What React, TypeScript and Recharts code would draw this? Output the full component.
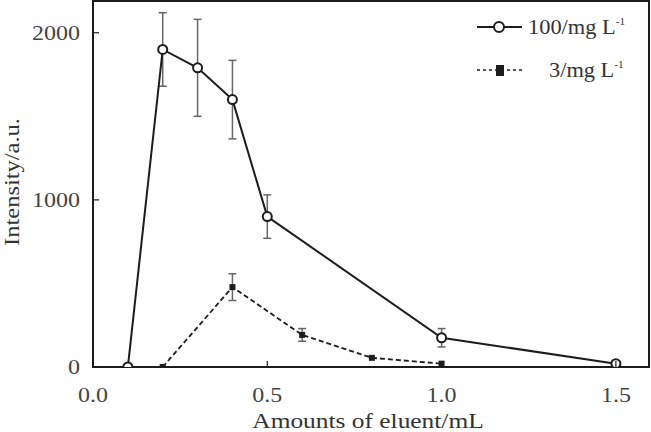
import React from "react";
import {
  LineChart,
  Line,
  XAxis,
  YAxis,
  ErrorBar,
  Legend,
  ReferenceArea,
} from "recharts";

const eluentHigh = [0.1, 0.2, 0.3, 0.4, 0.5, 1.0, 1.5];
const intensityHigh = [0, 1900, 1790, 1600, 900, 175, 20];
const errorHigh = [0, 220, 290, 235, 130, 55, 0];

const eluentLow = [0.2, 0.4, 0.6, 0.8, 1.0];
const intensityLow = [0, 478, 192, 55, 20];
const errorLow = [0, 80, 38, 0, 0];

const xTicks = [0, 0.5, 1.0, 1.5];
const yTicks = [0, 1000, 2000];
const seriesNames = ["100/mg L", "3/mg L"];

const X_MAX = 1.595;
const Y_MAX = 2190;

const FONT = "'Liberation Serif', 'Times New Roman', serif";
const INK = "#1c1c1c";
const STRETCH = 1.2;

const highData = eluentHigh.map((x, i) => ({ x, y: intensityHigh[i], err: errorHigh[i] }));
const lowData = eluentLow.map((x, i) => ({ x, y: intensityLow[i], err: errorLow[i] }));

const TICK_SIZE = 8;

function XTick({ x, y, payload }: any) {
  const axisY = y - TICK_SIZE;
  return (
    <g>
      <line x1={x} y1={axisY} x2={x} y2={axisY - 6} stroke={INK} strokeWidth={1.2} />
      <g transform={`translate(${x},${axisY + 35}) scale(${STRETCH},1)`}>
        <text x={0} y={0} textAnchor="middle" fontFamily={FONT} fontSize={20} fill="#444">
          {Number(payload.value).toFixed(1)}
        </text>
      </g>
    </g>
  );
}

function YTick({ x, y, payload }: any) {
  const axisX = x + TICK_SIZE;
  return (
    <g>
      <line x1={axisX} y1={y} x2={axisX + 6} y2={y} stroke={INK} strokeWidth={1.2} />
      <g transform={`translate(${axisX - 13},${y + 7}) scale(${STRETCH},1)`}>
        <text x={0} y={0} textAnchor="end" fontFamily={FONT} fontSize={20} fill="#444">
          {payload.value}
        </text>
      </g>
    </g>
  );
}

function SquareDot({ cx, cy, index }: any) {
  return <rect key={`sq-${index}`} x={cx - 3} y={cy - 3} width={6} height={6} fill={INK} />;
}

function LegendBox() {
  return (
    <svg width={180} height={80}>
      <line x1={7} y1={22} x2={52} y2={22} stroke={INK} strokeWidth={2} />
      <circle cx={29} cy={22} r={5} fill="#fff" stroke={INK} strokeWidth={2} />
      <g transform={`translate(58,29) scale(1.12,1)`}>
        <text x={0} y={0} fontFamily={FONT} fontSize={20} fill="#333">
          {seriesNames[0]}
          <tspan fontSize={10} dy={-9}>-1</tspan>
        </text>
      </g>
      <line x1={7} y1={65} x2={55} y2={65} stroke={INK} strokeWidth={1.6} strokeDasharray="3 3" />
      <rect x={26} y={60} width={8} height={11} fill={INK} />
      <g transform={`translate(79,72) scale(1.12,1)`}>
        <text x={0} y={0} fontFamily={FONT} fontSize={20} fill="#333">
          {seriesNames[1]}
          <tspan fontSize={10} dy={-9}>-1</tspan>
        </text>
      </g>
    </svg>
  );
}

export default function App() {
  return (
    <div style={{ position: "absolute", left: 0, top: 0, width: 651, height: 432, background: "#fff" }}>
      <LineChart width={651} height={432} margin={{ top: 1, right: 2, left: 0, bottom: 0 }}>
        <XAxis
          type="number"
          dataKey="x"
          domain={[0, X_MAX]}
          ticks={xTicks}
          allowDataOverflow
          height={65}
          tickSize={TICK_SIZE}
          tickMargin={0}
          tickLine={false}
          axisLine={{ stroke: INK, strokeWidth: 2 }}
          tick={<XTick />}
          label={{
            position: "bottom",
            content: ({ viewBox }: any) => (
              <g transform={`translate(${viewBox.x + viewBox.width / 2 - 3},${viewBox.y + 61}) scale(1.27,1)`}>
                <text x={0} y={0} textAnchor="middle" fontFamily={FONT} fontSize={20} fill="#333">
                  Amounts of eluent/mL
                </text>
              </g>
            ),
          }}
        />
        <YAxis
          type="number"
          domain={[0, Y_MAX]}
          ticks={yTicks}
          allowDataOverflow
          width={93}
          tickSize={TICK_SIZE}
          tickMargin={0}
          tickLine={false}
          axisLine={{ stroke: INK, strokeWidth: 2 }}
          tick={<YTick />}
          label={{
            position: "left",
            content: ({ viewBox }: any) => (
              <text
                x={0}
                y={0}
                transform={`translate(19,${viewBox.y + viewBox.height / 2 - 2}) rotate(-90)`}
                textAnchor="middle"
                fontFamily={FONT}
                fontSize={20}
                fill="#333"
                textLength={128}
                lengthAdjust="spacingAndGlyphs"
              >
                Intensity/a.u.
              </text>
            ),
          }}
        />
        <ReferenceArea x1={0} x2={X_MAX} y1={0} y2={Y_MAX} fill="none" stroke={INK} strokeWidth={2} />
        <Legend
          layout="vertical"
          align="center"
          verticalAlign="middle"
          wrapperStyle={{ top: 5, left: 470, width: 180 }}
          content={() => <LegendBox />}
        />
        <Line
          data={highData}
          dataKey="y"
          name={seriesNames[0]}
          stroke={INK}
          strokeWidth={2}
          dot={{ r: 4.5, fill: "#fff", stroke: INK, strokeWidth: 2 }}
          isAnimationActive={false}
        >
          <ErrorBar dataKey="err" direction="y" width={4} stroke="#666" strokeWidth={1.5} />
        </Line>
        <Line
          data={lowData}
          dataKey="y"
          name={seriesNames[1]}
          stroke={INK}
          strokeWidth={1.8}
          strokeDasharray="5 3"
          dot={<SquareDot />}
          isAnimationActive={false}
        >
          <ErrorBar dataKey="err" direction="y" width={4} stroke="#666" strokeWidth={1.5} />
        </Line>
      </LineChart>
    </div>
  );
}
